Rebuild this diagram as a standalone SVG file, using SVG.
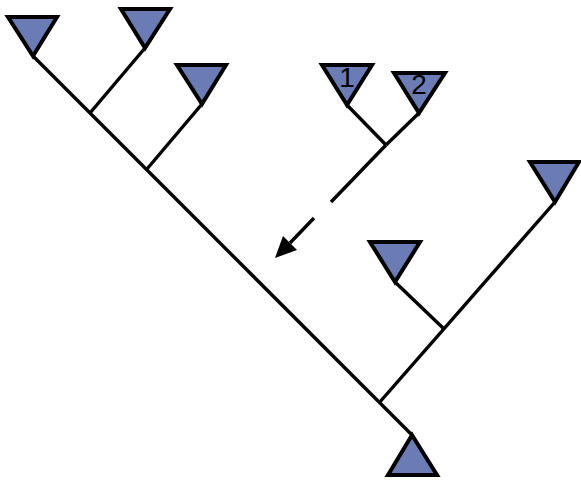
<svg xmlns="http://www.w3.org/2000/svg" width="581" height="480" viewBox="0 0 581 480">
<style>
.tri{fill:#6b7bb3;stroke:#000;stroke-width:4;stroke-linejoin:miter}
.ln{stroke:#000;stroke-width:3.4;fill:none}
.lbl{font-family:"Liberation Sans",Arial,sans-serif;font-size:28px;fill:#000;text-anchor:middle}
</style>
<g id="connectors">
<line class="ln" x1="33" y1="56" x2="412" y2="435"/>
<line class="ln" x1="145" y1="48" x2="90" y2="113"/>
<line class="ln" x1="202" y1="104" x2="147" y2="169"/>
<line class="ln" x1="555" y1="202" x2="379" y2="403"/>
<line class="ln" x1="395" y1="282" x2="443" y2="328"/>
<line class="ln" x1="347" y1="105" x2="386" y2="145"/>
<line class="ln" x1="419" y1="113" x2="386" y2="145"/>
<line class="ln" x1="386" y1="145" x2="331" y2="202"/>
<line class="ln" x1="314" y1="218" x2="290" y2="243"/>
<path d="M275,258 L283,236 L297,250 Z" fill="#000"/>
</g>
<g id="n1"><polygon class="tri" points="8,17 57,17 33,56"/></g>
<g id="n2"><polygon class="tri" points="121,9 170,9 145,48"/></g>
<g id="n3"><polygon class="tri" points="177,65 226,65 202,104"/></g>
<g id="n4"><polygon class="tri" points="322,65 372,65 347,105"/><text class="lbl" x="347" y="87">1</text></g>
<g id="n5"><polygon class="tri" points="394,73 445,73 419,113"/><text class="lbl" x="419" y="94">2</text></g>
<g id="n6"><polygon class="tri" points="530,162 579,162 555,202"/></g>
<g id="n7"><polygon class="tri" points="370,242 420,242 395,282"/></g>
<g id="n8"><polygon class="tri" points="388,475 437,475 412,435"/></g>
</svg>
